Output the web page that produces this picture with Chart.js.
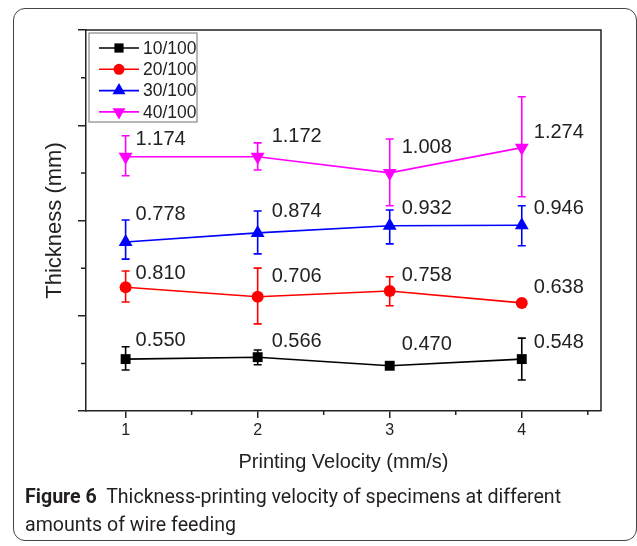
<!DOCTYPE html>
<html>
<head>
<meta charset="utf-8">
<script src="https://cdn.jsdelivr.net/npm/chart.js@4.4.0/dist/chart.umd.min.js"></script>
<style>
    html, body { margin: 0; padding: 0; background: #fff; }
    body { width: 637px; height: 546px; position: relative; overflow: hidden; }
    #frame { position: absolute; left: 13px; top: 8px; width: 624px; height: 533px; border: 1px solid #444; border-radius: 12px; box-sizing: border-box; }
    #wrap { position: absolute; left: 0; top: 0; width: 637px; height: 546px; }
    #caption { position: absolute; left: 25px; top: 483px; width: 610px; white-space: nowrap; font-family: Roboto, "Noto Sans", sans-serif; font-size: 19.6px; line-height: 28px; color: #231f20; }
    #caption b { font-weight: 700; }
</style>
</head>
<body>
<div id="frame"></div>
<div id="wrap"><canvas id="chartThickness" width="637" height="546"></canvas></div>
<div id="caption"><b>Figure 6</b>&nbsp; Thickness-printing velocity of specimens at different<br>amounts of wire feeding</div>
<script>
const velocity = [1, 2, 3, 4];
const seriesNames = ['10/100', '20/100', '30/100', '40/100'];

const thick10 = [1.09, 1.13, 0.95, 1.09];
const thick20 = [2.60, 2.40, 2.52, 2.27];
const thick30 = [3.55, 3.74, 3.89, 3.90];
const thick40 = [5.34, 5.34, 5.00, 5.53];

// Barras de error [min, max]
const err10 = [[0.86, 1.35], [0.97, 1.28], [0.92, 0.97], [0.65, 1.53]];
const err20 = [[2.29, 2.94], [1.83, 3.00], [2.21, 2.82], [2.27, 2.27]];
const err30 = [[3.19, 4.01], [3.30, 4.20], [3.51, 4.22], [3.47, 4.31]];
const err40 = [[4.94, 5.78], [5.06, 5.63], [4.31, 5.71], [4.50, 6.60]];

// Etiquetas de valor
const label10 = ['0.550', '0.566', '0.470', '0.548'];
const label20 = ['0.810', '0.706', '0.758', '0.638'];
const label30 = ['0.778', '0.874', '0.932', '0.946'];
const label40 = ['1.174', '1.172', '1.008', '1.274'];

const xMajorTicks = [1, 2, 3, 4];
const xMinorTicks = [1.5, 2.5, 3.5, 4.5];
const yMajorTicks = [0, 2, 4, 6, 8];
const yMinorTicks = [1, 3, 5, 7];

// Estilos
const FONT = '"Liberation Sans", Arial, sans-serif';
const AXIS_COLOR = '#222';
const colors = ['#000000', '#ff0000', '#0000ff', '#ff00ff'];
const pointStyles = ['rect', 'circle', 'triangle', 'triangle'];
const pointRadii = [7, 6, 8, 8];
const pointRotations = [0, 0, 0, 180];
const labelDx = [10, 14, 12, 12];
const labelDy = [
    [-19, -16, -21, -17],
    [-14, -20, -16, -15],
    [-27, -21, -17, -17],
    [-17, -20, -25, -15]
];

const allThick = [thick10, thick20, thick30, thick40];
const allErr = [err10, err20, err30, err40];
const allLabels = [label10, label20, label30, label40];

const datasets = allThick.map((vals, i) => ({
    label: seriesNames[i],
    data: velocity.map((v, j) => ({ x: v, y: vals[j] })),
    borderColor: colors[i],
    backgroundColor: colors[i],
    borderWidth: 1.6,
    pointStyle: pointStyles[i],
    pointRadius: pointRadii[i],
    pointRotation: pointRotations[i],
    pointBorderWidth: 0,
    tension: 0
}));

// Barras de error
const errorBarsPlugin = {
    id: 'errorBars',
    beforeDatasetsDraw(chart) {
        const { ctx, scales: { x, y } } = chart;
        ctx.save();
        ctx.lineWidth = 1.6;
        allErr.forEach((errs, i) => {
            ctx.strokeStyle = colors[i];
            errs.forEach((e, j) => {
                if (e[1] - e[0] < 0.001) return;
                const px = x.getPixelForValue(velocity[j]);
                const y0 = y.getPixelForValue(e[0]);
                const y1 = y.getPixelForValue(e[1]);
                ctx.beginPath();
                ctx.moveTo(px, y0); ctx.lineTo(px, y1);
                ctx.moveTo(px - 4, y0); ctx.lineTo(px + 4, y0);
                ctx.moveTo(px - 4, y1); ctx.lineTo(px + 4, y1);
                ctx.stroke();
            });
        });
        ctx.restore();
    }
};

// Marco, ticks menores, etiquetas y leyenda
const decorPlugin = {
    id: 'decor',
    afterDraw(chart) {
        const { ctx, chartArea: a, scales: { x, y } } = chart;
        ctx.save();
        ctx.strokeStyle = AXIS_COLOR;
        ctx.lineWidth = 1.5;
        ctx.beginPath();
        ctx.moveTo(a.left, a.top); ctx.lineTo(a.right, a.top); ctx.lineTo(a.right, a.bottom);
        xMinorTicks.forEach(v => {
            const px = x.getPixelForValue(v);
            ctx.moveTo(px, a.bottom); ctx.lineTo(px, a.bottom + 4);
        });
        yMinorTicks.forEach(v => {
            const py = y.getPixelForValue(v);
            ctx.moveTo(a.left, py); ctx.lineTo(a.left - 5, py);
        });
        ctx.stroke();

        // etiquetas de valor
        ctx.font = '20px ' + FONT;
        ctx.fillStyle = '#222';
        ctx.textAlign = 'left';
        ctx.textBaseline = 'middle';
        allLabels.forEach((labels, i) => {
            labels.forEach((t, j) => {
                const px = x.getPixelForValue(velocity[j]);
                const py = y.getPixelForValue(allThick[i][j]);
                ctx.fillText(t, px + labelDx[j], py + labelDy[i][j]);
            });
        });

        // leyenda
        const lx = a.left + 3, ly = a.top + 3;
        ctx.strokeStyle = '#888';
        ctx.lineWidth = 1.2;
        ctx.strokeRect(lx, ly, 108, 89);
        ctx.font = '17.5px ' + FONT;
        seriesNames.forEach((name, i) => {
            const ry = ly + 15 + i * 21.3;
            ctx.strokeStyle = colors[i];
            ctx.fillStyle = colors[i];
            ctx.lineWidth = 1.6;
            ctx.beginPath();
            ctx.moveTo(lx + 10, ry); ctx.lineTo(lx + 50, ry);
            ctx.stroke();
            Chart.helpers.drawPoint(ctx, {
                pointStyle: pointStyles[i],
                radius: pointRadii[i] - 0.5,
                rotation: pointRotations[i],
                borderWidth: 0
            }, lx + 30, ry);
            ctx.fillStyle = '#222';
            ctx.fillText(name, lx + 54, ry + 1);
        });
        ctx.restore();
    }
};

const ctx = document.getElementById('chartThickness').getContext('2d');
new Chart(ctx, {
    type: 'line',
    data: { datasets: datasets },
    plugins: [errorBarsPlugin, decorPlugin],
    options: {
        responsive: false,
        animation: false,
        layout: { padding: { left: 0, top: 30, right: 36, bottom: 72 } },
        plugins: {
            legend: { display: false },
            tooltip: { enabled: false }
        },
        scales: {
            x: {
                type: 'linear',
                min: 0.7,
                max: 4.6,
                afterBuildTicks: s => { s.ticks = xMajorTicks.map(v => ({ value: v })); },
                afterFit: s => { s.height = 63; },
                grid: { drawOnChartArea: false, drawTicks: true, tickLength: 7, color: AXIS_COLOR, lineWidth: 1.5 },
                border: { color: AXIS_COLOR, width: 1.5 },
                ticks: { font: { size: 16, family: FONT }, color: '#222', padding: 3, maxRotation: 0, callback: v => v },
                title: { display: true, text: 'Printing Velocity (mm/s)', font: { size: 20, family: FONT }, color: '#222', padding: 0 }
            },
            y: {
                min: 0,
                max: 8,
                afterBuildTicks: s => { s.ticks = yMajorTicks.map(v => ({ value: v })); },
                afterFit: s => { s.width = 86; },
                grid: { drawOnChartArea: false, drawTicks: true, tickLength: 8, color: AXIS_COLOR, lineWidth: 1.5 },
                border: { color: AXIS_COLOR, width: 1.5 },
                ticks: { display: false },
                title: { display: true, text: 'Thickness (mm)', font: { size: 22, family: FONT }, color: '#222', padding: { top: 42, bottom: 0 } }
            }
        }
    }
});
</script>
</body>
</html>
